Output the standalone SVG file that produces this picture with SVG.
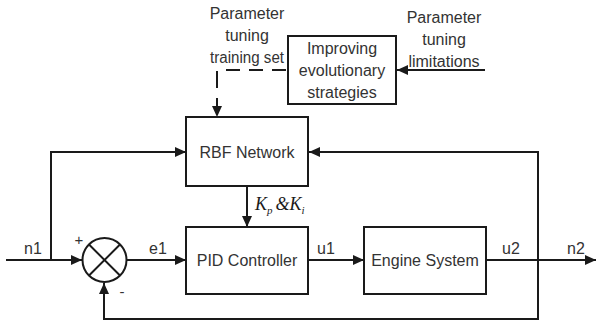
<svg xmlns="http://www.w3.org/2000/svg" width="596" height="324" viewBox="0 0 596 324">
<defs>
<marker id="ah" markerUnits="userSpaceOnUse" markerWidth="12" markerHeight="10" refX="11" refY="5" orient="auto">
<path d="M0,0 L11,5 L0,10 Z" fill="#1a1a1a"/>
</marker>
</defs>
<style>
.box{fill:#fff;stroke:#1a1a1a;stroke-width:2}
.ln{fill:none;stroke:#1a1a1a;stroke-width:2}
.t{font-family:"Liberation Sans",Arial,sans-serif;font-size:16px;fill:#333;text-anchor:middle}
.s{font-family:"Liberation Sans",Arial,sans-serif;font-size:15px;fill:#333;text-anchor:middle}
.m{font-family:"Liberation Serif","Times New Roman",serif;font-style:italic;fill:#1a1a1a}
</style>
<rect width="596" height="324" fill="#fff"/>
<g id="connectors">
<path class="ln" d="M226,70 L288,70" stroke-dasharray="14,9"/>
<path class="ln" d="M217,71 L217,117" stroke-dasharray="17,10" marker-end="url(#ah)"/>
<path class="ln" d="M485,70 L397,70" marker-end="url(#ah)"/>
<path class="ln" d="M6,260 L82,260" marker-end="url(#ah)"/>
<path class="ln" d="M51,260 L51,152 L186,152" marker-end="url(#ah)"/>
<path class="ln" d="M127,260 L186,260" marker-end="url(#ah)"/>
<path class="ln" d="M247,186 L247,227" marker-end="url(#ah)"/>
<path class="ln" d="M308,260 L364,260" marker-end="url(#ah)"/>
<path class="ln" d="M486,260 L596,260" marker-end="url(#ah)"/>
<path class="ln" d="M538,260 L538,319 L104,319 L104,283" marker-end="url(#ah)"/>
<path class="ln" d="M538,260 L538,152 L309,152" marker-end="url(#ah)"/>
</g>
<g id="improving">
<rect class="box" x="288" y="36" width="108" height="68"/>
<text class="t" x="342" y="54">Improving</text>
<text class="t" x="342" y="76">evolutionary</text>
<text class="t" x="342" y="98">strategies</text>
</g>
<g id="rbf">
<rect class="box" x="186" y="117" width="122" height="69"/>
<text class="t" x="247" y="158">RBF Network</text>
</g>
<g id="pid">
<rect class="box" x="186" y="227" width="122" height="67"/>
<text class="t" x="247" y="266">PID Controller</text>
</g>
<g id="engine">
<rect class="box" x="364" y="227" width="122" height="67"/>
<text class="t" x="425" y="266">Engine System</text>
</g>
<g id="sum">
<circle class="ln" cx="104.5" cy="260" r="22"/>
<path class="ln" d="M89,244.5 L120,275.5 M120,244.5 L89,275.5"/>
</g>
<g id="labels">
<text class="t" x="247" y="19">Parameter</text>
<text class="t" x="247" y="41">tuning</text>
<text class="t" x="247" y="63" textLength="74" lengthAdjust="spacingAndGlyphs">training set</text>
<text class="t" x="444" y="23">Parameter</text>
<text class="t" x="444" y="45">tuning</text>
<text class="t" x="444" y="67">limitations</text>
<text class="t" x="33" y="254">n1</text>
<text class="t" x="158" y="254">e1</text>
<text class="t" x="326" y="254">u1</text>
<text class="t" x="511" y="254">u2</text>
<text class="t" x="576" y="254">n2</text>
<text class="s" x="79" y="245">+</text>
<text class="s" x="122" y="297">-</text>
<text class="m" x="255" y="210" font-size="18">K<tspan font-size="11" dy="4">p</tspan><tspan dy="-4" dx="3">&amp;K</tspan><tspan font-size="11" dy="4">i</tspan></text>
</g>
</svg>
